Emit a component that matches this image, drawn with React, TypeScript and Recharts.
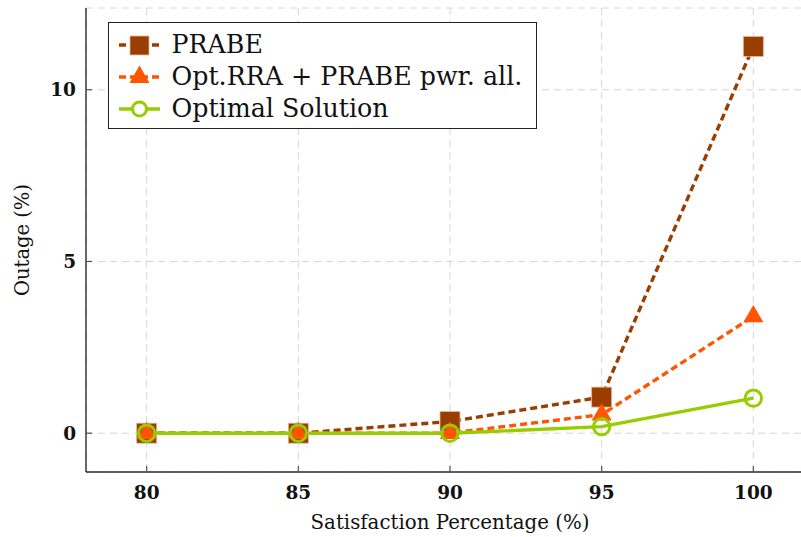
import React from 'react';
import { LineChart, Line, XAxis, YAxis, CartesianGrid, Legend } from 'recharts';

const satisfaction = [80, 85, 90, 95, 100];
const prabe = [0, 0, 0.34, 1.05, 11.26];
const optRra = [0, 0, 0, 0.54, 3.4];
const optimal = [0, 0, 0, 0.19, 1.02];
const xTicks = [80, 85, 90, 95, 100];
const yTicks = [0, 5, 10];
const seriesNames = ['PRABE', 'Opt.RRA + PRABE pwr. all.', 'Optimal Solution'];
const seriesColors = ['#993D00', '#FF5500', '#99CC00'];
const xLabelText = 'Satisfaction Percentage (%)';
const yLabelText = 'Outage (%)';

const data = satisfaction.map((s, i) => ({ x: s, prabe: prabe[i], optRra: optRra[i], optimal: optimal[i] }));

const FONT = '"DejaVu Serif", serif';
const AXIS = '#2b2b2b';
const TICKC = '#555';
const LW = 3.4;

const XTick = (props: any) => {
  const { x, y, payload } = props;
  return (
    <g>
      <line x1={x} x2={x} y1={y} y2={y - 6} stroke={TICKC} strokeWidth={1.2} />
      <text x={x} y={y + 20} textAnchor="middle" dominantBaseline="central" fontFamily={FONT} fontWeight="bold" fontSize={18.5} fill="#111">
        {payload.value}
      </text>
    </g>
  );
};

const TopTick = (props: any) => {
  const { x, y } = props;
  return <line x1={x} x2={x} y1={y} y2={y + 6} stroke={TICKC} strokeWidth={1.2} />;
};

const YTick = (props: any) => {
  const { x, y, payload } = props;
  return (
    <g>
      <line x1={x} x2={x + 6} y1={y} y2={y} stroke={TICKC} strokeWidth={1.2} />
      <text x={x - 10} y={y} textAnchor="end" dominantBaseline="central" fontFamily={FONT} fontWeight="bold" fontSize={18.5} fill="#111">
        {payload.value}
      </text>
    </g>
  );
};

const XLabel = (props: any) => {
  const vb = props.viewBox || {};
  return (
    <text x={vb.x + vb.width / 2} y={vb.y + 50} textAnchor="middle" dominantBaseline="central" fontFamily={FONT} fontSize={19.8} fill="#111">
      {xLabelText}
    </text>
  );
};

const YLabel = (props: any) => {
  const vb = props.viewBox || {};
  const cx = vb.x + 22;
  const cy = vb.y + vb.height / 2;
  return (
    <text x={cx} y={cy} transform={`rotate(-90 ${cx} ${cy})`} textAnchor="middle" dominantBaseline="central" fontFamily={FONT} fontSize={19.5} fill="#111">
      {yLabelText}
    </text>
  );
};

const SquareDot = (props: any) => {
  const { cx, cy, index } = props;
  if (cx == null || cy == null) return <g key={`s${index}`} />;
  return <rect key={`s${index}`} x={cx - 10} y={cy - 10} width={20} height={20} fill={seriesColors[0]} stroke="#e9b896" strokeWidth={0.8} />;
};

const TriangleDot = (props: any) => {
  const { cx, cy, index } = props;
  if (cx == null || cy == null) return <g key={`t${index}`} />;
  const r = 11.5;
  const pts = `${cx},${cy - r} ${cx + 10},${cy + r / 2} ${cx - 10},${cy + r / 2}`;
  return <polygon key={`t${index}`} points={pts} fill={seriesColors[1]} />;
};

const CircleDot = (props: any) => {
  const { cx, cy, index } = props;
  if (cx == null || cy == null) return <g key={`c${index}`} />;
  return <circle key={`c${index}`} cx={cx} cy={cy} r={8.2} fill="none" stroke={seriesColors[2]} strokeWidth={3} />;
};

const LegendMarker = ({ i }: { i: number }) => {
  const c = seriesColors[i];
  return (
    <svg width={46} height={30} style={{ display: 'block' }}>
      <line x1={0} x2={41} y1={15} y2={15} stroke={c} strokeWidth={LW} strokeDasharray={i < 2 ? '7 4' : undefined} />
      {i === 0 && <rect x={11} y={6} width={19} height={19} fill={c} stroke="#e9b896" strokeWidth={0.8} />}
      {i === 1 && <polygon points={`20.5,3.5 30.5,21 10.5,21`} fill={c} />}
      {i === 2 && <circle cx={20.5} cy={15} r={7} fill="#fff" stroke={c} strokeWidth={3} />}
    </svg>
  );
};

const LegendBox = () => (
  <div
    style={{
      boxSizing: 'border-box',
      width: 429,
      height: 107,
      border: '1.4px solid #222',
      background: '#fff',
      paddingTop: 6,
      paddingLeft: 9.5,
    }}
  >
    {seriesNames.map((name, i) => (
      <div key={name} style={{ display: 'flex', alignItems: 'center', height: 32 }}>
        <LegendMarker i={i} />
        <span style={{ fontFamily: FONT, fontSize: 25.3, color: '#111', marginLeft: 7, lineHeight: '32px', whiteSpace: 'nowrap' }}>{name}</span>
      </div>
    ))}
  </div>
);

export default function App() {
  return (
    <div style={{ position: 'absolute', left: 0, top: 0, width: 801, height: 537, overflow: 'hidden', background: '#fff' }}>
      <LineChart width={824} height={537} data={data} margin={{ top: 8, right: 10, bottom: 0, left: 0 }}>
        <CartesianGrid stroke="#d6d6d6" strokeDasharray="7 5" strokeWidth={1} />
        <XAxis
          dataKey="x"
          type="number"
          domain={[78, 102]}
          ticks={xTicks}
          interval={0}
          tick={<XTick />}
          tickLine={false}
          tickSize={0}
          tickMargin={0}
          height={65}
          axisLine={{ stroke: AXIS, strokeWidth: 1.4 }}
          allowDataOverflow
          label={XLabel}
        />
        <XAxis
          xAxisId="top"
          orientation="top"
          type="number"
          domain={[78, 102]}
          ticks={xTicks}
          interval={0}
          height={0}
          tick={<TopTick />}
          tickLine={false}
          tickSize={0}
          tickMargin={0}
          axisLine={{ stroke: AXIS, strokeWidth: 1.4 }}
          allowDataOverflow
        />
        <YAxis
          type="number"
          domain={[-1.13, 12.38]}
          ticks={yTicks}
          interval={0}
          width={86}
          tick={<YTick />}
          tickLine={false}
          tickSize={0}
          tickMargin={0}
          axisLine={{ stroke: AXIS, strokeWidth: 1.4 }}
          allowDataOverflow
          label={YLabel}
        />
        <Legend
          layout="horizontal"
          verticalAlign="middle"
          align="center"
          content={() => <LegendBox />}
          wrapperStyle={{ position: 'absolute', left: 108, top: 22, width: 429, height: 107 }}
        />
        <Line dataKey="prabe" name={seriesNames[0]} stroke={seriesColors[0]} strokeWidth={LW} strokeDasharray="7 4" dot={SquareDot} isAnimationActive={false} />
        <Line dataKey="optRra" name={seriesNames[1]} stroke={seriesColors[1]} strokeWidth={LW} strokeDasharray="7 4" dot={TriangleDot} isAnimationActive={false} />
        <Line dataKey="optimal" name={seriesNames[2]} stroke={seriesColors[2]} strokeWidth={LW} dot={CircleDot} isAnimationActive={false} />
      </LineChart>
    </div>
  );
}
